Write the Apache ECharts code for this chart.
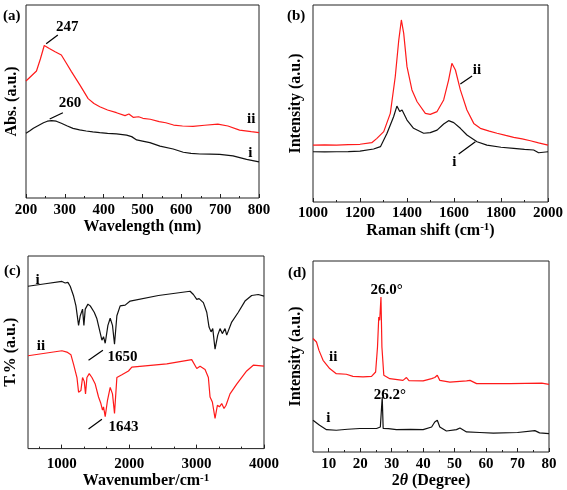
<!DOCTYPE html>
<html><head><meta charset="utf-8">
<script src="https://cdn.jsdelivr.net/npm/echarts@6/dist/echarts.min.js"></script>
<style>html,body{margin:0;padding:0;background:#fff}#c{width:567px;height:490px}</style>
</head><body><div id="c"></div>
<script>
// ---------- (a) UV-vis ----------
var aTicks = [200, 300, 400, 500, 600, 700, 800];
var aMinor = [250, 350, 450, 550, 650, 750];
var aWl_ii = [200,227,237,247,260,275,291,304,317,339,360,375,390,410,433,455,465,476,490,501,520,543,560,580,603,630,660,694,720,750,780,800];
var aAbs_ii = [60.6,65.8,72,79,77.5,75.8,74.1,69.8,65.5,58.5,51.5,49,47.3,45.6,44.2,42.7,43.5,41.8,42.1,41.3,40.8,39.6,39,37.8,37.3,37.1,37.7,38.3,37.3,35.2,34.4,33.9];
var aWl_i = [200,210,219,232,245,255,266,278,291,305,321,338,355,372,390,410,433,459,472,485,500,519,545,579,605,625,648,675,699,733,768,800];
var aAbs_i = [33.5,34.8,36.1,37.6,39,39.8,40.1,39.8,38.7,37.4,36.1,35.3,34.7,34.3,33.9,33.5,33.2,32.6,31.8,30.1,29.5,28.7,26.9,25.4,23.7,23.1,22.8,22.7,22.6,21.8,20,18.7];
var aNotes = [['247', 306, 88.6], ['260', 313, 49.2], ['ii', 780, 40.8], ['i', 778, 23]];
var aArrows = [[282, 84.5, 252, 79.9], [295, 44.2, 261, 40.9]];

// ---------- (b) Raman ----------
var bTicks = [1000, 1200, 1400, 1600, 1800, 2000];
var bMinor = [1100, 1300, 1500, 1700, 1900];
var bShift_ii = [1000,1050,1100,1150,1200,1250,1272,1301,1329,1350,1365,1376,1386,1400,1421,1443,1478,1499,1528,1556,1577,1591,1606,1627,1655,1684,1712,1750,1783,1820,1854,1890,1925,1960,2000];
var bInt_ii = [28.9,29.0,28.9,29.1,29.3,30.1,32.3,35.7,45,63.6,82.2,92.4,85.6,68.7,56.9,50.9,45,44.5,45.9,51.8,61.9,70.4,67,56.9,46.7,39.9,37.4,36,34.9,33.8,32.8,32,31.1,30,28.9];
var bShift_i = [1000,1050,1100,1150,1200,1258,1287,1315,1343,1357,1369,1379,1400,1428,1471,1499,1528,1556,1577,1599,1627,1655,1698,1740,1800,1854,1900,1939,1960,2000];
var bInt_i = [25.5,25.4,25.5,25.6,25.8,26.9,28.1,34.9,43.3,48.7,45.9,46.7,41.6,37.4,34.9,35.2,36.5,39.6,41.3,40.3,37.4,34,30.6,28.9,27.8,27.2,26.7,26.4,25,25.5];
var bNotes = [['ii', 1698, 67], ['i', 1601, 20]];
var bArrows = [[1677, 64, 1627, 59.9], [1620, 24.4, 1691, 30.6]];

// ---------- (c) FTIR ----------
var cTicks = [1000, 2000, 3000, 4000];
var cMinor = [667, 1333, 1667, 2333, 2667, 3333, 3667];
var cWn_i = [500,756,1003,1052,1092,1126,1176,1211,1250,1275,1309,1329,1349,1389,1423,1448,1482,1522,1556,1596,1620,1645,1685,1719,1753,1783,1818,1867,1941,2015,2040,2434,2904,2953,3003,3037,3101,3151,3185,3215,3240,3274,3314,3348,3382,3422,3447,3521,3619,3718,3817,3915,4000];
var cT_i = [84.3,85.6,86.8,86,86.3,84.3,79.2,74.1,64,69,72.4,64,72.4,75,74.1,75,70.8,67.4,62.3,56.3,58.1,54.7,64,67.7,64,54.2,69,74.1,74.5,76.6,77.5,79.5,81.7,80,77.5,77.9,75.8,70.8,63.1,60.6,62.3,51.6,58.9,62.3,59.7,62.3,58.9,65.7,70.8,76.6,79.5,80,79.2];
var cWn_ii = [500,1003,1077,1137,1176,1226,1250,1285,1309,1334,1353,1374,1408,1448,1497,1546,1581,1605,1620,1645,1679,1719,1753,1783,1818,1892,1990,2040,2558,2928,3003,3052,3126,3175,3200,3234,3274,3309,3339,3373,3407,3437,3496,3595,3743,3841,4000];
var cT_ii = [48.2,50.8,50.1,48.7,43.7,36.9,29.3,30.2,36.9,34.9,28.4,36.9,38.9,36.9,33.5,26.8,23.4,20,21.7,16.6,25.1,31.8,28.4,18.3,36.9,38.3,40.3,42.3,44,46.2,41.6,42.8,41.1,36.9,26.8,24.2,15.7,22.5,21.7,23.4,20.8,22.5,28.4,33.5,40.3,43.3,42.8];
var cNotes = [['i', 642, 87.3], ['ii', 693, 53], ['1650', 1901, 47.4], ['1643', 1916, 11.2]];
var cArrows = [[1398, 45.9, 1611, 51.1], [1398, 10.2, 1596, 15.2]];

// ---------- (d) XRD ----------
var dTicks = [10, 20, 30, 40, 50, 60, 70, 80];
var dMinor = [15, 25, 35, 45, 55, 65, 75];
var dTheta_ii = [5,6.1,6.9,8.2,10.3,12.4,15.6,17.7,20.9,23.6,24.9,25.5,25.9,26.2,26.6,26.9,27.5,29.4,33.6,34.7,35.5,40,42.7,43.7,44.5,45.3,48.5,53.8,54.9,57,67.6,77.7,80];
var dInt_ii = [59.4,57.6,53.2,48,43.7,41,40.7,39.6,39.3,39.6,41.9,55,70.7,69,81.2,55,40.2,38.4,37.5,39,37.4,37.2,38.4,39,40.2,37.5,36.6,37.2,37.5,35.8,35.8,36.1,35.4];
var dTheta_i = [5,7.1,9.3,12.4,16,19.9,23,25.2,26.4,27,27.3,29,31.5,36,40,42.7,43.7,44.5,45.3,47.4,50.6,51.7,53.8,58,62.3,70,75.5,76.1,77,80];
var dInt_i = [16.6,14,11.7,11.4,11.9,12.3,12.3,12.3,13.1,28.8,12.3,12.2,11.7,11.8,11.7,13.1,15.7,16.6,13.1,11,11.7,12.6,10.5,10.2,9.9,10.2,11.2,10.5,10,9.6];
var dNotes = [['26.0°', 28.4, 84.7], ['26.2°', 29.4, 29.7], ['ii', 11.4, 49.7], ['i', 9.9, 17.5]];

var FONT = 'Liberation Serif';
var RED = '#ff1a1a', BLK = '#111';

function zip(xs, ys) { return xs.map(function (x, i) { return [x, ys[i]]; }); }
function txt(size, extra) {
  var o = { fontFamily: FONT, fontWeight: 'bold', fontSize: size, color: '#000' };
  for (var k in extra) o[k] = extra[k];
  return o;
}
var rich = {
  sup: { fontFamily: FONT, fontWeight: 'bold', fontSize: 11, verticalAlign: 'top', color: '#000', padding: [0, 0, 6, 0] },
  it: { fontFamily: FONT, fontWeight: 'bold', fontStyle: 'italic', fontSize: 16, color: '#000' }
};
function mainX(gi, min, max, ticks, name, gap, margin) {
  return {
    type: 'value', gridIndex: gi, min: min, max: max, position: 'bottom',
    axisLine: { show: false }, splitLine: { show: false },
    axisTick: { show: true, inside: true, length: 4, customValues: ticks, lineStyle: { color: '#222', width: 1 } },
    axisLabel: { customValues: ticks, margin: margin, fontFamily: FONT, fontWeight: 'bold', fontSize: 15, color: '#000',
      formatter: function (v) { return String(v); } },
    name: name, nameLocation: 'middle', nameGap: gap,
    nameTextStyle: txt(16, { rich: rich })
  };
}
function minorX(gi, min, max, ticks) {
  return {
    type: 'value', gridIndex: gi, min: min, max: max, position: 'bottom',
    axisLine: { show: false }, splitLine: { show: false }, axisLabel: { show: false },
    axisTick: { show: true, inside: true, length: 2, customValues: ticks, lineStyle: { color: '#222', width: 1 } }
  };
}
function yAx(gi, name, gap) {
  return {
    type: 'value', gridIndex: gi, min: 0, max: 100,
    axisLine: { show: false }, axisTick: { show: false }, axisLabel: { show: false }, splitLine: { show: false },
    name: name, nameLocation: 'middle', nameGap: gap, nameTextStyle: txt(16, {})
  };
}
function notesMP(notes) {
  return {
    symbol: 'rect', symbolSize: [1, 1], silent: true,
    itemStyle: { color: 'rgba(0,0,0,0)' },
    label: txt(15, { show: true, position: 'inside' }),
    data: notes.map(function (n) { return { coord: [n[1], n[2]], label: { formatter: n[0] } }; })
  };
}
function arrowsML(arrows) {
  return {
    symbol: ['none', 'arrow'], symbolSize: [0, 9], silent: true, z: 10,
    lineStyle: { color: '#000', width: 1.2, type: 'solid' }, itemStyle: { color: '#000' }, label: { show: false },
    data: arrows.map(function (a) { return [{ coord: [a[0], a[1]] }, { coord: [a[2], a[3]] }]; })
  };
}
function line(gi, xs, ys, color, extra) {
  var s = {
    type: 'line', xAxisIndex: gi, yAxisIndex: gi, data: zip(xs, ys),
    symbol: 'none', showSymbol: false, lineStyle: { color: color, width: 1.2 }, itemStyle: { color: color }, z: 3
  };
  for (var k in extra) s[k] = extra[k];
  return s;
}

var grids = [
  { left: 26, top: 5, width: 233, height: 193 },
  { left: 313, top: 5, width: 235, height: 197 },
  { left: 28, top: 256, width: 236, height: 197 },
  { left: 313, top: 261, width: 236, height: 191 }
].map(function (g) { g.show = true; g.borderColor = '#222'; g.borderWidth = 1; g.backgroundColor = 'transparent'; return g; });

var option = {
  animation: false,
  backgroundColor: '#fff',
  title: [
    { text: '(a)', left: 3, top: 9 },
    { text: '(b)', left: 287, top: 9 },
    { text: '(c)', left: 4, top: 264 },
    { text: '(d)', left: 288, top: 266 }
  ].map(function (t) { t.padding = 0; t.textStyle = txt(15, {}); return t; }),
  grid: grids,
  xAxis: [
    mainX(0, 200, 800, aTicks, 'Wavelength (nm)', 20, 5),
    mainX(1, 1000, 2000, bTicks, 'Raman shift (cm{sup|-1})', 19, 4),
    mainX(2, 500, 4000, cTicks, 'Wavenumber/cm{sup|-1}', 20, 8),
    mainX(3, 5, 80, dTicks, '2{it|θ} (Degree)', 20, 5),
    minorX(0, 200, 800, aMinor),
    minorX(1, 1000, 2000, bMinor),
    minorX(2, 500, 4000, cMinor),
    minorX(3, 5, 80, dMinor)
  ],
  yAxis: [
    yAx(0, 'Abs. (a.u.)', 6),
    yAx(1, 'Intensity (a.u.)', 9),
    yAx(2, 'T.% (a.u.)', 9),
    yAx(3, 'Intensity (a.u.)', 9)
  ],
  series: [
    line(0, aWl_ii, aAbs_ii, RED),
    line(0, aWl_i, aAbs_i, BLK, { markPoint: notesMP(aNotes), markLine: arrowsML(aArrows) }),
    line(1, bShift_ii, bInt_ii, RED),
    line(1, bShift_i, bInt_i, BLK, { markPoint: notesMP(bNotes), markLine: arrowsML(bArrows) }),
    line(2, cWn_i, cT_i, BLK, { markPoint: notesMP(cNotes), markLine: arrowsML(cArrows) }),
    line(2, cWn_ii, cT_ii, RED),
    line(3, dTheta_ii, dInt_ii, RED),
    line(3, dTheta_i, dInt_i, BLK, { markPoint: notesMP(dNotes) })
  ]
};
var chart = echarts.init(document.getElementById('c'), null, { renderer: 'canvas' });
chart.setOption(option);
</script></body></html>
